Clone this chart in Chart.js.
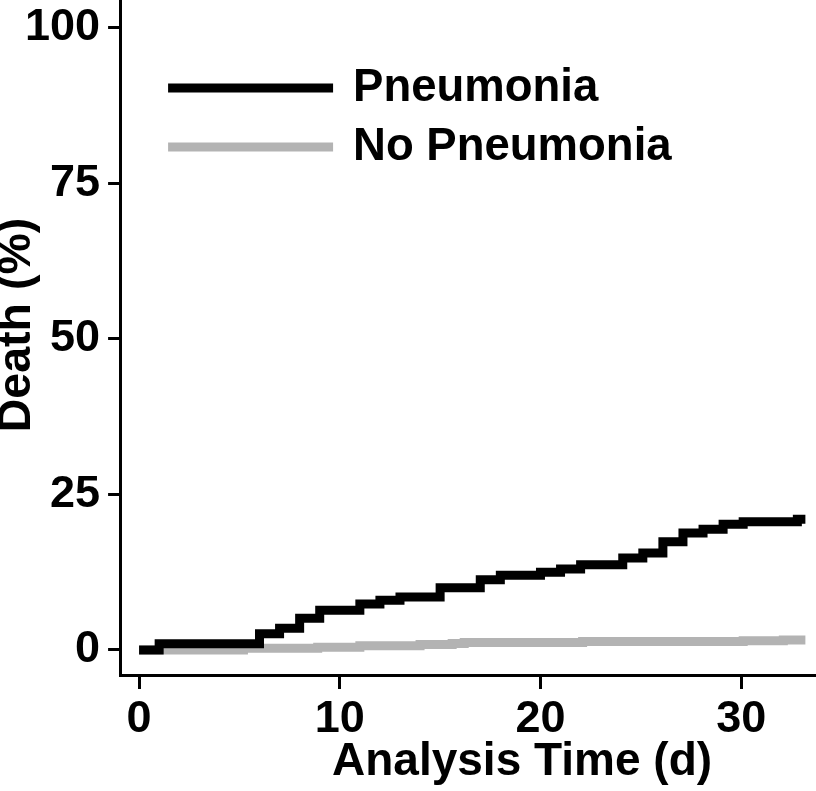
<!DOCTYPE html>
<html><head><meta charset="utf-8">
<script src="https://cdn.jsdelivr.net/npm/chart.js@4"></script>
<style>
html,body{margin:0;padding:0;background:#fff;overflow:hidden}
#wrap{position:relative;width:816px;height:791px;overflow:hidden;background:#fff}
#c{position:absolute;left:0;top:-60px}
</style></head><body>
<div id="wrap"><canvas id="c" width="940" height="851"></canvas></div>
<script>
// ---- data ----
const seriesNames = ['Pneumonia', 'No Pneumonia'];
const pneumoniaTimes = [0, 1, 6, 7, 8, 9, 11, 12, 13, 15, 17, 18, 20, 21, 22, 24.1, 25.1, 26.1, 27.1, 28.1, 29.1, 30.1, 32.8, 33.2];
const pneumoniaDeath = [0, 1.0, 2.6, 3.5, 5.1, 6.4, 7.4, 8.0, 8.5, 10.0, 11.3, 12.0, 12.5, 13.0, 13.7, 14.8, 15.6, 17.4, 18.8, 19.4, 20.2, 20.6, 21.0, 21.0];
const noPneumoniaTimes = [0, 5.2, 8.9, 11, 14, 15.6, 16.2, 22.1, 30.1, 32.1, 33.2];
const noPneumoniaDeath = [0, 0.27, 0.45, 0.67, 0.88, 1.05, 1.2, 1.37, 1.47, 1.6, 1.6];
const xTickValues = [0, 10, 20, 30];
const yTickValues = [0, 25, 50, 75, 100];
const xAxisTitle = 'Analysis Time (d)';
const yAxisTitle = 'Death (%)';

const FONT = '"Liberation Sans", Arial, Helvetica, sans-serif';
const toPoints = (xs, ys) => xs.map((x, i) => ({x: x, y: ys[i]}));

const insideLegend = {
  id: 'insideLegend',
  afterDatasetsDraw(chart) {
    const {ctx, chartArea} = chart;
    ctx.save();
    chart.data.datasets.forEach((ds, i) => {
      const y = chartArea.top + 113 + i * 59;
      ctx.strokeStyle = ds.borderColor;
      ctx.lineWidth = 9;
      ctx.lineCap = 'butt';
      ctx.beginPath();
      ctx.moveTo(chartArea.left + 48, y);
      ctx.lineTo(chartArea.left + 213, y);
      ctx.stroke();
      ctx.fillStyle = '#000';
      ctx.font = 'bold 45.5px ' + FONT;
      ctx.textBaseline = 'middle';
      ctx.textAlign = 'left';
      ctx.fillText(ds.label, chartArea.left + 233, y);
    });
    ctx.restore();
  }
};

new Chart(document.getElementById('c'), {
  type: 'line',
  data: {
    datasets: [
      {
        label: seriesNames[0],
        data: toPoints(pneumoniaTimes, pneumoniaDeath),
        borderColor: '#000000',
        backgroundColor: '#000000',
        borderWidth: 9,
        stepped: 'before',
        pointRadius: 0,
        borderCapStyle: 'butt',
        borderJoinStyle: 'miter',
        fill: false
      },
      {
        label: seriesNames[1],
        data: toPoints(noPneumoniaTimes, noPneumoniaDeath),
        borderColor: '#b3b3b3',
        backgroundColor: '#b3b3b3',
        borderWidth: 9,
        stepped: 'before',
        pointRadius: 0,
        borderCapStyle: 'butt',
        borderJoinStyle: 'miter',
        fill: false
      }
    ]
  },
  options: {
    responsive: false,
    maintainAspectRatio: false,
    devicePixelRatio: 1,
    animation: false,
    layout: {padding: {top: 35, right: 16, bottom: 0, left: 0}},
    plugins: {legend: {display: false}, tooltip: {enabled: false}, title: {display: false}},
    scales: {
      x: {
        type: 'linear',
        position: 'bottom',
        min: -0.947,
        max: 39.11,
        afterBuildTicks: (s) => { s.ticks = xTickValues.map(v => ({value: v})); },
        grid: {display: true, drawOnChartArea: false, drawTicks: true, tickLength: 14, tickWidth: 3, tickColor: '#000'},
        border: {display: true, color: '#000', width: 3},
        ticks: {color: '#000', padding: 8.5, font: {family: FONT, size: 45, weight: 'bold', lineHeight: 1}, maxRotation: 0, autoSkip: false, callback: v => String(v)},
        title: {display: true, text: xAxisTitle, color: '#000', font: {family: FONT, size: 46, weight: 'bold', lineHeight: 1}, padding: {top: -11.5, bottom: 5.5}}
      },
      y: {
        type: 'linear',
        position: 'left',
        min: -4.02,
        max: 108.5,
        afterBuildTicks: (s) => { s.ticks = yTickValues.map(v => ({value: v})); },
        grid: {display: true, drawOnChartArea: false, drawTicks: true, tickLength: 12, tickWidth: 3, tickColor: '#000'},
        border: {display: true, color: '#000', width: 3},
        ticks: {color: '#000', padding: 8, font: {family: FONT, size: 45, weight: 'bold', lineHeight: 1}, autoSkip: false, callback: v => String(v)},
        title: {display: true, text: yAxisTitle, color: '#000', font: {family: FONT, size: 46.5, weight: 'bold', lineHeight: 1}, padding: {top: -5.75, bottom: -23.75}}
      }
    }
  },
  plugins: [insideLegend]
});
</script>
</body></html>
